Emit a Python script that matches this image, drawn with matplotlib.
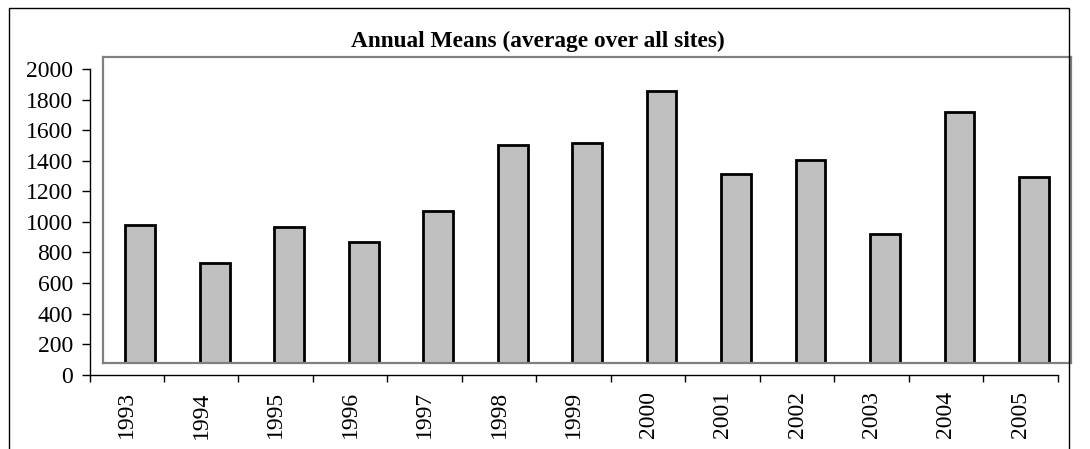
import matplotlib
matplotlib.use("Agg")
import matplotlib.pyplot as plt
from matplotlib.patches import Rectangle

# === DATA ===
years = ['1993', '1994', '1995', '1996', '1997', '1998', '1999',
         '2000', '2001', '2002', '2003', '2004', '2005']
annual_means = [902, 654, 891, 789, 993, 1424, 1435,
                1774, 1233, 1324, 843, 1635, 1213]
y_ticks = [0, 200, 400, 600, 800, 1000, 1200, 1400, 1600, 1800, 2000]

plt.rcParams['font.family'] = ['Liberation Serif', 'DejaVu Serif']

W, H = 1090, 449
fig = plt.figure(figsize=(W / 100, H / 100), dpi=100)

# outer chart border (bottom runs off the picture)
fig.patches.append(Rectangle((9 / W, -0.1), 1060 / W, (H - 8) / H + 0.1,
                             transform=fig.transFigure, fill=False,
                             edgecolor='black', linewidth=1.0, zorder=0))

n = len(years)

# axis frame: left + bottom only
ax_l, ax_b, ax_w, ax_h = 89.5 / W, (H - 374.7) / H, 968.2 / W, 305.7 / H
ax = fig.add_axes([ax_l, ax_b, ax_w, ax_h])
ax.set_facecolor('none')
ax.set_xlim(0, n)
ax.set_ylim(0, 2000)
for s in ['top', 'right']:
    ax.spines[s].set_visible(False)
for s in ['left', 'bottom']:
    ax.spines[s].set_linewidth(1.0)
ax.set_yticks(y_ticks)
ax.set_yticklabels([str(v) for v in y_ticks], fontsize=17)
ax.tick_params(axis='y', direction='out', length=6, width=1, pad=6)
ax.set_xticks(range(n + 1))
ax.set_xticklabels([])
ax.tick_params(axis='x', which='major', direction='out', length=5, width=1)
ax.set_xticks([i + 0.5 for i in range(n)], minor=True)
ax.set_xticklabels(years, minor=True, rotation=90, fontsize=17)
ax.tick_params(axis='x', which='minor', length=0, pad=12)

# plot area (shifted copy holding the bars and the gray frame)
dx, dy = 13.5 / W, 11.5 / H
pa = fig.add_axes([ax_l + dx, ax_b + dy, ax_w, ax_h + 1 / H])
pa.set_facecolor('none')
pa.set_xlim(0, n)
pa.set_ylim(0, 2000)
pa.set_xticks([])
pa.set_yticks([])
for s in pa.spines.values():
    s.set_edgecolor('#808080')
    s.set_linewidth(1.6)
pa.bar([i + 0.5 for i in range(n)], annual_means, width=0.4,
       color='#C0C0C0', edgecolor='black', linewidth=2.0, zorder=2)

fig.text(537.5 / W, (H - 46.5) / H, 'Annual Means (average over all sites)',
         ha='center', va='baseline', fontsize=16.8, fontweight='bold')

fig.savefig('out.png', dpi=100)
